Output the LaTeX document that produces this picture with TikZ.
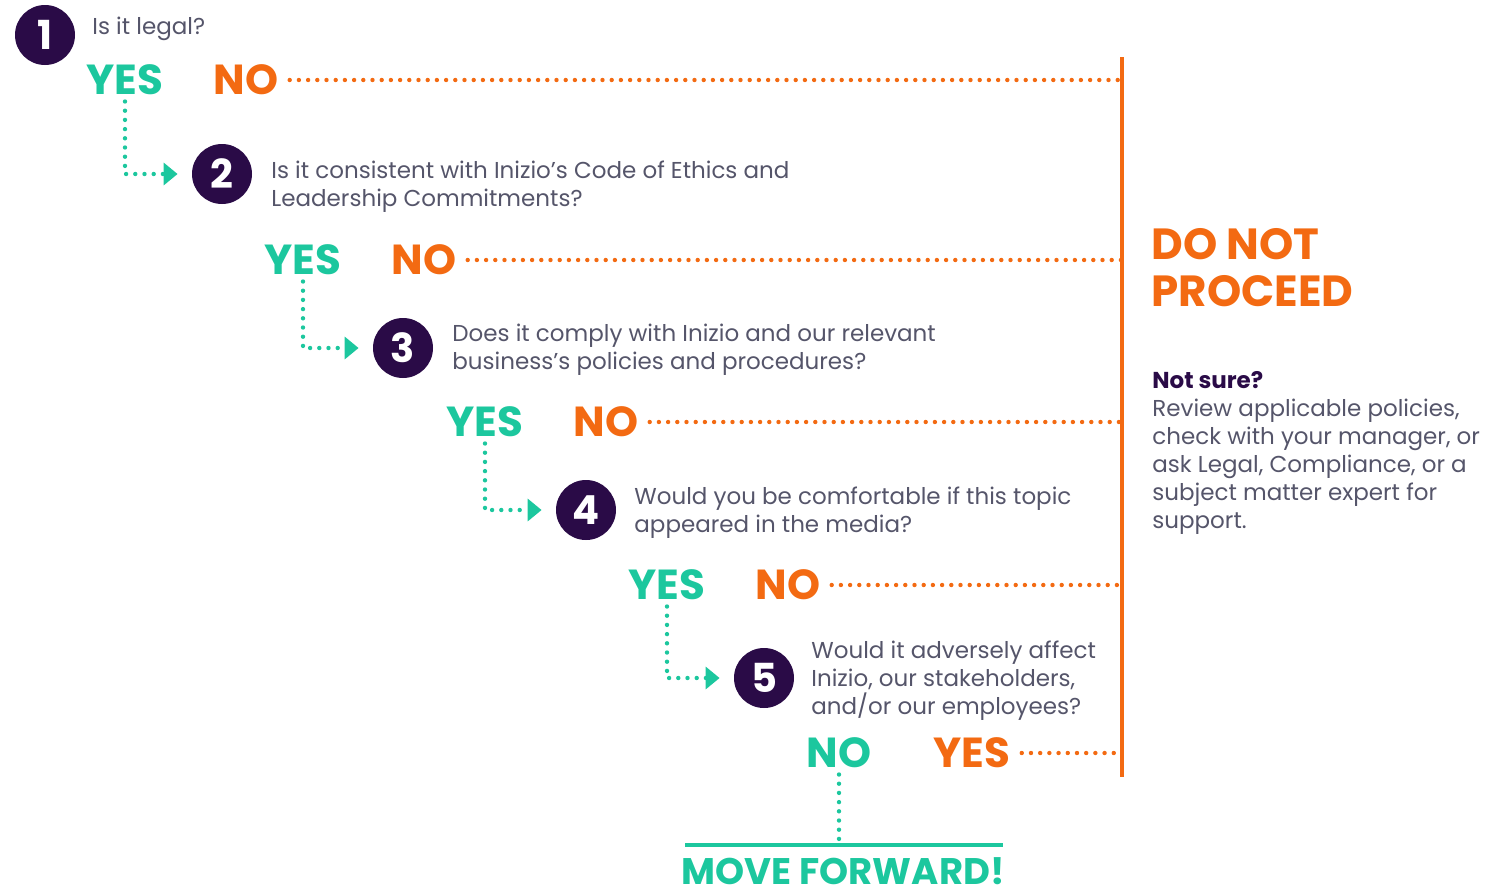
\documentclass[tikz,border=0pt]{standalone}
\usepackage{fontspec}
\setmainfont{Poppins}
\usepackage{tikz}
\usetikzlibrary{arrows.meta,positioning}

\definecolor{inzteal}{HTML}{1CC79E}
\definecolor{inzorange}{HTML}{F36A12}
\definecolor{inzpurple}{HTML}{2A0B47}
\definecolor{inzgray}{HTML}{55556A}

\begin{document}
\begin{tikzpicture}[x=0.5pt,y=-0.5pt,
	numcirc/.style={circle,fill=inzpurple,minimum size=30pt,inner sep=0pt,text=white,font=\bfseries\fontsize{20}{20}\selectfont},
	qtxt/.style={anchor=west,align=left,text=inzgray,inner sep=0pt,font=\fontsize{11.5}{14}\selectfont},
	yestxt/.style={text=inzteal,inner sep=0pt,font=\bfseries\fontsize{21}{21}\selectfont},
	notxt/.style={text=inzorange,inner sep=0pt,font=\bfseries\fontsize{21}{21}\selectfont},
	tdots/.style={inzteal,line width=2.2pt,line cap=round,dash pattern=on 0pt off 4.6pt},
	odots/.style={inzorange,line width=2.2pt,line cap=round,dash pattern=on 0pt off 4.6pt},
	tarrow/.style={tdots,-{Triangle[length=7pt,width=11pt]},shorten >=7pt,shorten <=3pt}]
	\useasboundingbox (0,0) rectangle (1496,890);

	% questions
	\foreach \i/\x/\y in {1/45/35,2/222/174,3/403/348,4/586/510,5/764/678}
		\node[numcirc] (c\i) at (\x,\y) {\i};
	\node[qtxt] (q1) at (92,29) {Is it legal?};
	\node[qtxt] (q2) at (271,187) {Is it consistent with Inizio’s Code of Ethics and\\Leadership Commitments?};
	\node[qtxt] (q3) at (452,350) {Does it comply with Inizio and our relevant\\business’s policies and procedures?};
	\node[qtxt] (q4) at (634,513) {Would you be comfortable if this topic\\appeared in the media?};
	\node[qtxt] (q5) at (811,681) {Would it adversely affect\\Inizio, our stakeholders,\\and/or our employees?};

	% answers
	\foreach \i/\x/\y in {1/125/80,2/303/260,3/485/422,4/667/585} {
		\node[yestxt] (yes\i) at (\x,\y) {YES};
		\node[notxt] (no\i) at (\x+121,\y) {NO};
	}
	\node[yestxt] (no5) at (839,753) {NO};
	\node[notxt] (yes5) at (972,753) {YES};

	% do not proceed
	\coordinate (vtop) at (1122,57);
	\coordinate (vbot) at (1122,777);
	\draw[inzorange,line width=1.7pt] (vtop) -- (vbot);
	\foreach \n in {no1,no2,no3,no4,yes5}
		\draw[odots,shorten <=5.5pt] (\n) -- (\n -| vtop);
	\node[notxt,anchor=west,align=left,font=\bfseries\fontsize{21.8}{23.5}\selectfont] (dnp) at (1151,268) {DO NOT\\PROCEED};
	\node[qtxt,anchor=north west] (unsure) at (1152,371) {\textcolor{inzpurple}{\bfseries Not sure?}\\Review applicable policies,\\check with your manager, or\\ask Legal, Compliance, or a\\subject matter expert for\\support.};

	% yes path
	\foreach \a/\b in {yes1/c2,yes2/c3,yes3/c4,yes4/c5}
		\draw[tarrow] (\a) |- (\b);

	% move forward
	\coordinate (mfl) at (685,845);
	\coordinate (mfr) at (1003,845);
	\draw[inzteal,line width=2pt] (mfl) -- (mfr);
	\draw[tdots,shorten <=3pt,shorten >=3pt] (no5) -- (no5 |- mfl);
	\node[yestxt,anchor=north,font=\bfseries\fontsize{18.5}{18.5}\selectfont] (mf) at (843,857) {MOVE FORWARD!};
\end{tikzpicture}
\end{document}
